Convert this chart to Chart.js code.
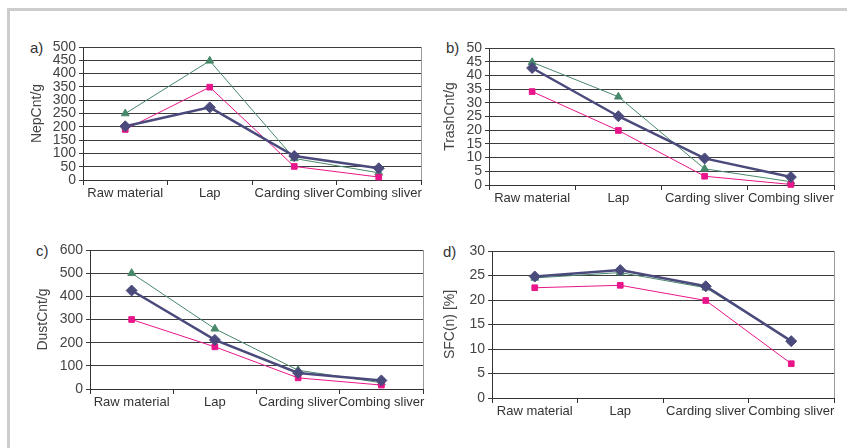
<!DOCTYPE html>
<html>
<head>
<meta charset="utf-8">
<script src="https://cdn.jsdelivr.net/npm/chart.js@4.4.1/dist/chart.umd.min.js"></script>
<style>
  html, body { margin: 0; padding: 0; background: #fff; }
  body { width: 847px; height: 448px; position: relative; overflow: hidden; font-family: "Liberation Sans", Arial, sans-serif; }
  .frame { position: absolute; left: 7px; top: 8px; width: 900px; height: 500px; border-left: 3px solid #cdcdcd; border-top: 3px solid #cdcdcd; }
  .panel { position: absolute; }
  .letter { position: absolute; font-size: 15px; color: #333; }
</style>
</head>
<body>
<div class="frame"></div>
<div class="letter" style="left:30px; top:39px;">a)</div>
<div class="letter" style="left:446px; top:39px;">b)</div>
<div class="letter" style="left:36px; top:242px;">c)</div>
<div class="letter" style="left:443px; top:243px;">d)</div>
<div id="panels"></div>
<script>
// --- DATA ---
const categories = ['Raw material', 'Lap', 'Carding sliver', 'Combing sliver'];

const nepDiamond = [202, 273, 90, 44];
const nepSquare = [190, 349, 51, 11];
const nepTriangle = [250, 448, 81, 27];

const trashDiamond = [42.7, 25.1, 9.7, 2.9];
const trashSquare = [34.1, 19.9, 3.2, 0.2];
const trashTriangle = [44.8, 32.2, 5.9, 1.2];

const dustDiamond = [425, 212, 69, 37];
const dustSquare = [300, 182, 48, 17];
const dustTriangle = [500, 260, 81, 27];

const sfcDiamond = [24.8, 26.1, 22.8, 11.6];
const sfcSquare = [22.5, 23.0, 19.9, 7.0];
const sfcTriangle = [24.5, 25.6, 22.5, 11.7];

// --- STYLE ---
const NAVY = '#4a4a7c';
const PINK = '#e8168a';
const GREEN = '#47886a';
const PAD_TOP = 12;
const PAD_RIGHT = 14;
const X_AXIS_H = 40;

// draws the light right edge of the plot box
const rightEdge = {
    id: 'rightEdge',
    afterDatasetsDraw(chart) {
        const a = chart.chartArea;
        const ctx = chart.ctx;
        ctx.save();
        ctx.strokeStyle = '#9a9a9a';
        ctx.lineWidth = 1;
        ctx.beginPath();
        ctx.moveTo(Math.round(a.right) + 0.5, a.top);
        ctx.lineTo(Math.round(a.right) + 0.5, a.bottom);
        ctx.stroke();
        ctx.restore();
    }
};

function makePanel(box, yWidth, yTitle, yMax, yStep, diamond, square, triangle) {
    const left = box.left - yWidth;
    const top = box.top - PAD_TOP;
    const w = box.right - left + PAD_RIGHT;
    const h = box.bottom - top + X_AXIS_H;

    const wrap = document.createElement('div');
    wrap.className = 'panel';
    wrap.style.left = left + 'px';
    wrap.style.top = top + 'px';
    const canvas = document.createElement('canvas');
    canvas.width = w;
    canvas.height = h;
    canvas.style.width = w + 'px';
    canvas.style.height = h + 'px';
    wrap.appendChild(canvas);
    document.getElementById('panels').appendChild(wrap);

    new Chart(canvas, {
        type: 'line',
        data: {
            labels: categories,
            datasets: [
                { label: 'Series 1', data: diamond, borderColor: NAVY, backgroundColor: NAVY, borderWidth: 2.5,
                  pointStyle: 'rectRot', pointRadius: 5.5, pointBorderWidth: 1 },
                { label: 'Series 2', data: square, borderColor: PINK, backgroundColor: PINK, borderWidth: 1,
                  pointStyle: 'rect', pointRadius: 4, pointBorderWidth: 1 },
                { label: 'Series 3', data: triangle, borderColor: GREEN, backgroundColor: GREEN, borderWidth: 1,
                  pointStyle: 'triangle', pointRadius: 4.5, pointBorderWidth: 1 }
            ]
        },
        options: {
            responsive: false,
            animation: false,
            clip: false,
            layout: { padding: { top: PAD_TOP, right: PAD_RIGHT, left: 0, bottom: 0 } },
            plugins: { legend: { display: false }, tooltip: { enabled: false } },
            elements: { line: { tension: 0 } },
            scales: {
                x: {
                    offset: true,
                    grid: { offset: true, drawOnChartArea: false, drawTicks: true, tickLength: 5, color: '#333' },
                    border: { color: '#333', width: 1 },
                    ticks: { color: '#333', padding: 1, maxRotation: 0, autoSkip: false,
                             font: { family: '"Liberation Sans", Arial, sans-serif', size: 13 } },
                    afterFit(scale) { scale.height = X_AXIS_H; }
                },
                y: {
                    min: 0,
                    max: yMax,
                    grid: { color: '#3c3c3c', lineWidth: 1, tickLength: 4 },
                    border: { color: '#333', width: 1 },
                    ticks: { stepSize: yStep, autoSkip: false, color: '#444', padding: 3,
                             font: { family: '"Liberation Sans", Arial, sans-serif', size: 14 } },
                    title: { display: true, text: yTitle, color: '#444', padding: { top: 4, bottom: 4 },
                             font: { family: '"Liberation Sans", Arial, sans-serif', size: 14 } },
                    afterFit(scale) { scale.width = yWidth; }
                }
            }
        },
        plugins: [rightEdge]
    });
}

makePanel({ left: 83, top: 47, right: 421, bottom: 180 }, 58, 'NepCnt/g', 500, 50, nepDiamond, nepSquare, nepTriangle);
makePanel({ left: 489, top: 48, right: 834, bottom: 185 }, 51, 'TrashCnt/g', 50, 5, trashDiamond, trashSquare, trashTriangle);
makePanel({ left: 90, top: 250, right: 423, bottom: 389 }, 59, 'DustCnt/g', 600, 100, dustDiamond, dustSquare, dustTriangle);
makePanel({ left: 492, top: 251, right: 834, bottom: 398 }, 54, 'SFC(n) [%]', 30, 5, sfcDiamond, sfcSquare, sfcTriangle);
</script>
</body>
</html>
